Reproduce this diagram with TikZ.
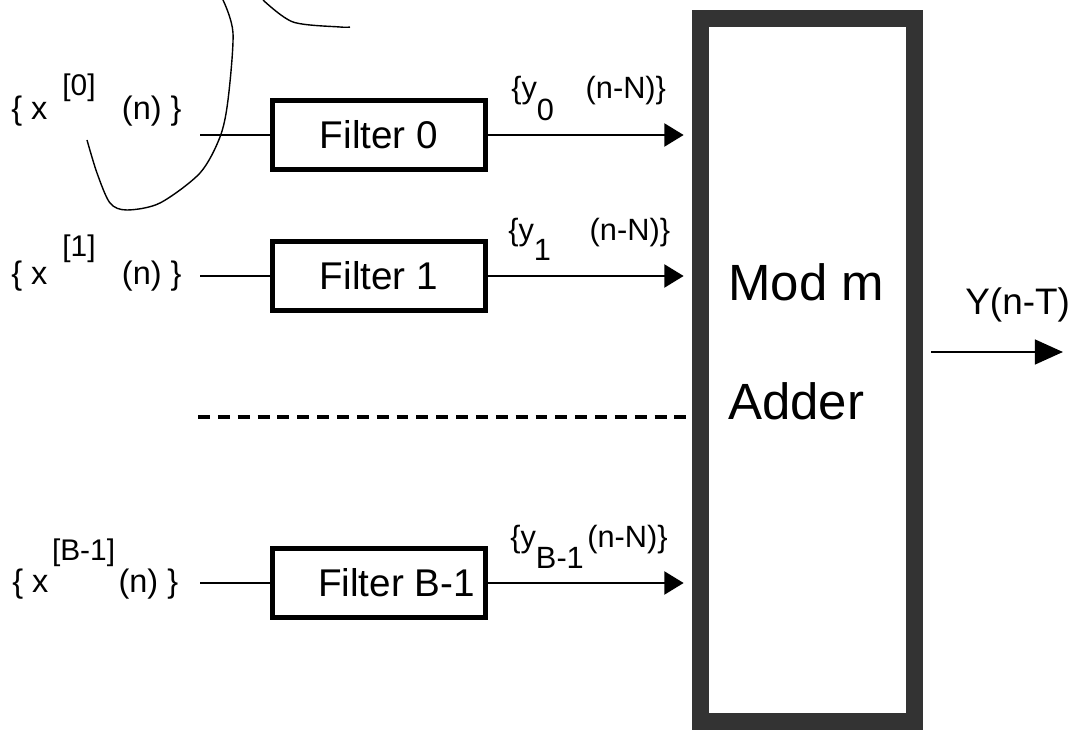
\documentclass[tikz,border=0pt]{standalone}
\usepackage{fontspec}
\setmainfont{Liberation Sans}
\usetikzlibrary{arrows.meta,positioning}
\newcommand{\fsz}[1]{\fontsize{#1}{#1}\selectfont}
\newcommand{\upidx}[2]{\raisebox{#1}{\fsz{17}#2}}

\begin{document}
\begin{tikzpicture}[x=0.02cm,y=-0.02cm,
  filt/.style={draw,line width=2.8pt,minimum width=4.26cm,minimum height=1.38cm,inner sep=0pt,font=\fsz{22}},
  adder/.style={draw=black!80,line width=9.6pt,minimum width=4.28cm,minimum height=14.06cm,inner sep=0pt},
  sig/.style={line width=1.6pt},
  feed/.style={sig,-{Triangle[length=11pt,width=13pt]},shorten >=4.8pt},
  inlbl/.style={anchor=base west,inner sep=0pt,font=\fsz{18.5}},
  outlbl/.style={anchor=base west,inner sep=0pt,font=\fsz{17.5}}]
\useasboundingbox (0,0) rectangle (1076,733);
% filters
\node[filt] (f0) at (379,135) {Filter 0};
\node[filt] (f1) at (379,276) {Filter 1};
\node[filt] (fB) at (379,583) {\makebox[2.44cm][l]{Filter B-1}};
% adder
\node[adder] (add) at (807.5,370) {};
\node[anchor=north west,inner sep=0pt,align=left,font=\fontsize{29}{68}\selectfont] (addtxt) at (728,263) {Mod m\\Adder};
% inputs
\coordinate (in0) at (200,135);
\coordinate (in1) at (200,276);
\coordinate (inB) at (200,583);
\draw[sig] (in0) -- (f0.west);
\draw[sig] (in1) -- (f1.west);
\draw[sig] (inB) -- (fB.west);
\node[inlbl] (x0) at (11,120) {\{ x\hspace{8.5pt}\upidx{14pt}{[0]}\hspace{15pt}(n) \}};
\node[inlbl] (x1) at (11,285) {\{ x\hspace{8.5pt}\upidx{16pt}{[1]}\hspace{15pt}(n) \}};
\node[inlbl] (xB) at (12,592) {\{ x\hspace{2pt}\upidx{18pt}{[B-1]}\hspace{2pt}(n) \}};
% filter outputs
\draw[feed] (f0.east) -- (f0.east -| add.west);
\draw[feed] (f1.east) -- (f1.east -| add.west);
\draw[feed] (fB.east) -- (fB.east -| add.west);
\node[outlbl] (y0) at (511,99) {\{y\raisebox{-12.5pt}{0}\hspace{18pt}(n-N)\}};
\node[outlbl] (y1) at (508,241) {\{y\raisebox{-11pt}{1}\hspace{22pt}(n-N)\}};
\node[outlbl] (yB) at (510,547) {\{y\raisebox{-12.5pt}{B-1}\hspace{2pt}(n-N)\}};
% dotted gap
\coordinate (dl) at (198,417);
\coordinate (dr) at (686,417);
\draw[line width=2.8pt,dash pattern=on 6.8pt off 4.5pt] (dl) -- (dr);
% output
\coordinate (yout) at (1063,352);
\draw[sig,-{Triangle[length=16pt,width=14pt]},shorten <=4.8pt] (add.east |- yout) -- (yout);
\node[anchor=base west,inner sep=0pt,font=\fsz{21}] (yt) at (965,315) {Y(n-T)};
% pen marks
\draw[line width=0.8pt] plot[smooth] coordinates {(223,0) (233,33) (228,100) (220,137) (200,173) (160,203) (127,210) (110,203) (97,173) (87,140)};
\draw[line width=0.8pt] plot[smooth] coordinates {(263,0) (293,22) (340,27) (350,27)};
\end{tikzpicture}
\end{document}
